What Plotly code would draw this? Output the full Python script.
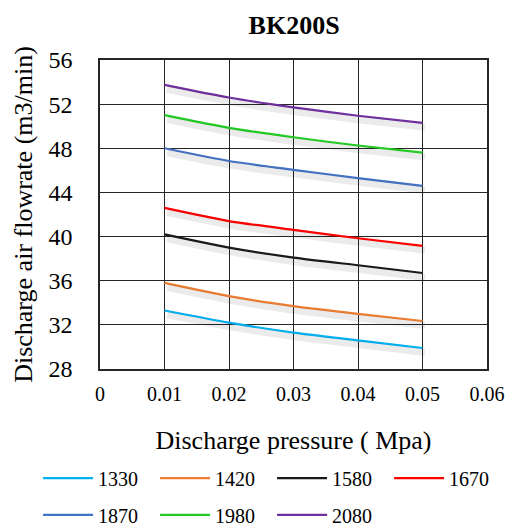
import plotly.graph_objects as go

pressure = [0.01, 0.02, 0.03, 0.04, 0.05]
speeds = ["1330", "1420", "1580", "1670", "1870", "1980", "2080"]
flow_1330 = [33.3, 32.2, 31.3, 30.6, 29.9]
flow_1420 = [35.8, 34.6, 33.7, 33.0, 32.35]
flow_1580 = [40.2, 39.0, 38.1, 37.4, 36.7]
flow_1670 = [42.6, 41.4, 40.6, 39.85, 39.15]
flow_1870 = [48.0, 46.85, 46.05, 45.3, 44.6]
flow_1980 = [51.0, 49.85, 49.0, 48.25, 47.6]
flow_2080 = [53.75, 52.6, 51.7, 50.95, 50.3]
series = [flow_1330, flow_1420, flow_1580, flow_1670, flow_1870, flow_1980, flow_2080]
colors = ["#00b0f0", "#ed7d31", "#1a1a1a", "#ff0000", "#4472c4", "#22cc22", "#7030a0"]

x_ticks = [0, 0.01, 0.02, 0.03, 0.04, 0.05, 0.06]
x_tick_text = ["0", "0.01", "0.02", "0.03", "0.04", "0.05", "0.06"]
y_ticks = [28, 32, 36, 40, 44, 48, 52, 56]
x_range = [0, 0.06]
y_range = [28, 56]

font = "Liberation Serif, Times New Roman, serif"
fig = go.Figure()
# soft drop shadows (same data drawn on a slightly shifted overlay axis)
for name, ys in zip(speeds, series):
    fig.add_trace(go.Scatter(x=pressure, y=ys, mode="lines", showlegend=False,
                             hoverinfo="skip", xaxis="x2", yaxis="y2",
                             line=dict(color="rgba(0,0,0,0.08)", width=7,
                                       shape="spline", smoothing=0.6)))
for i, (name, ys, c) in enumerate(zip(speeds, series, colors)):
    fig.add_trace(go.Scatter(x=pressure, y=ys, name=name, mode="lines",
                             legend="legend" if i < 4 else "legend2",
                             line=dict(color=c, width=2.2, shape="spline", smoothing=0.6)))

leg_common = dict(orientation="h", xanchor="left", yanchor="middle",
                  entrywidth=52, entrywidthmode="pixels", traceorder="normal",
                  font=dict(family=font, size=20, color="black"),
                  bgcolor="rgba(0,0,0,0)", itemwidth=50)

fig.update_layout(
    width=508, height=526,
    margin=dict(l=100, r=21, t=60, b=157, autoexpand=False),
    paper_bgcolor="white", plot_bgcolor="white",
    font=dict(family=font, size=20, color="black"),
    title=dict(text="<b>BK200S</b>", x=0.579, xanchor="center", y=0.952, yanchor="middle",
               font=dict(family=font, size=26, color="black")),
    xaxis=dict(range=x_range, tickvals=x_ticks, ticktext=x_tick_text,
               showgrid=True, gridcolor="#262626", gridwidth=1,
               showline=True, linecolor="#262626", linewidth=1.5, mirror=True,
               zeroline=False, ticks="", ticklabelstandoff=6, automargin=False,
               tickfont=dict(family=font, size=20),
               title=dict(text="Discharge pressure ( Mpa)", standoff=27,
                          font=dict(family=font, size=26))),
    yaxis=dict(range=y_range, tickvals=y_ticks,
               showgrid=True, gridcolor="#262626", gridwidth=1,
               showline=True, linecolor="#262626", linewidth=1.5, mirror=True,
               zeroline=False, ticks="", ticklabelstandoff=21, automargin=False,
               tickfont=dict(family=font, size=24),
               title=dict(text="Discharge air flowrate (m3/min)", standoff=8,
                          font=dict(family=font, size=26))),
    xaxis2=dict(range=[x_range[0] - 0.0004, x_range[1] - 0.0004], overlaying="x",
                visible=False, fixedrange=True),
    yaxis2=dict(range=[y_range[0] + 0.4, y_range[1] + 0.4], overlaying="y",
                visible=False, fixedrange=True),
    legend=dict(x=-0.16, y=-0.353, **leg_common),
    legend2=dict(x=-0.16, y=-0.472, **leg_common),
    showlegend=True,
)
fig.write_html("out.html", config={"displayModeBar": False},
               post_script="document.body.style.margin='0';document.body.style.overflow='hidden';")
